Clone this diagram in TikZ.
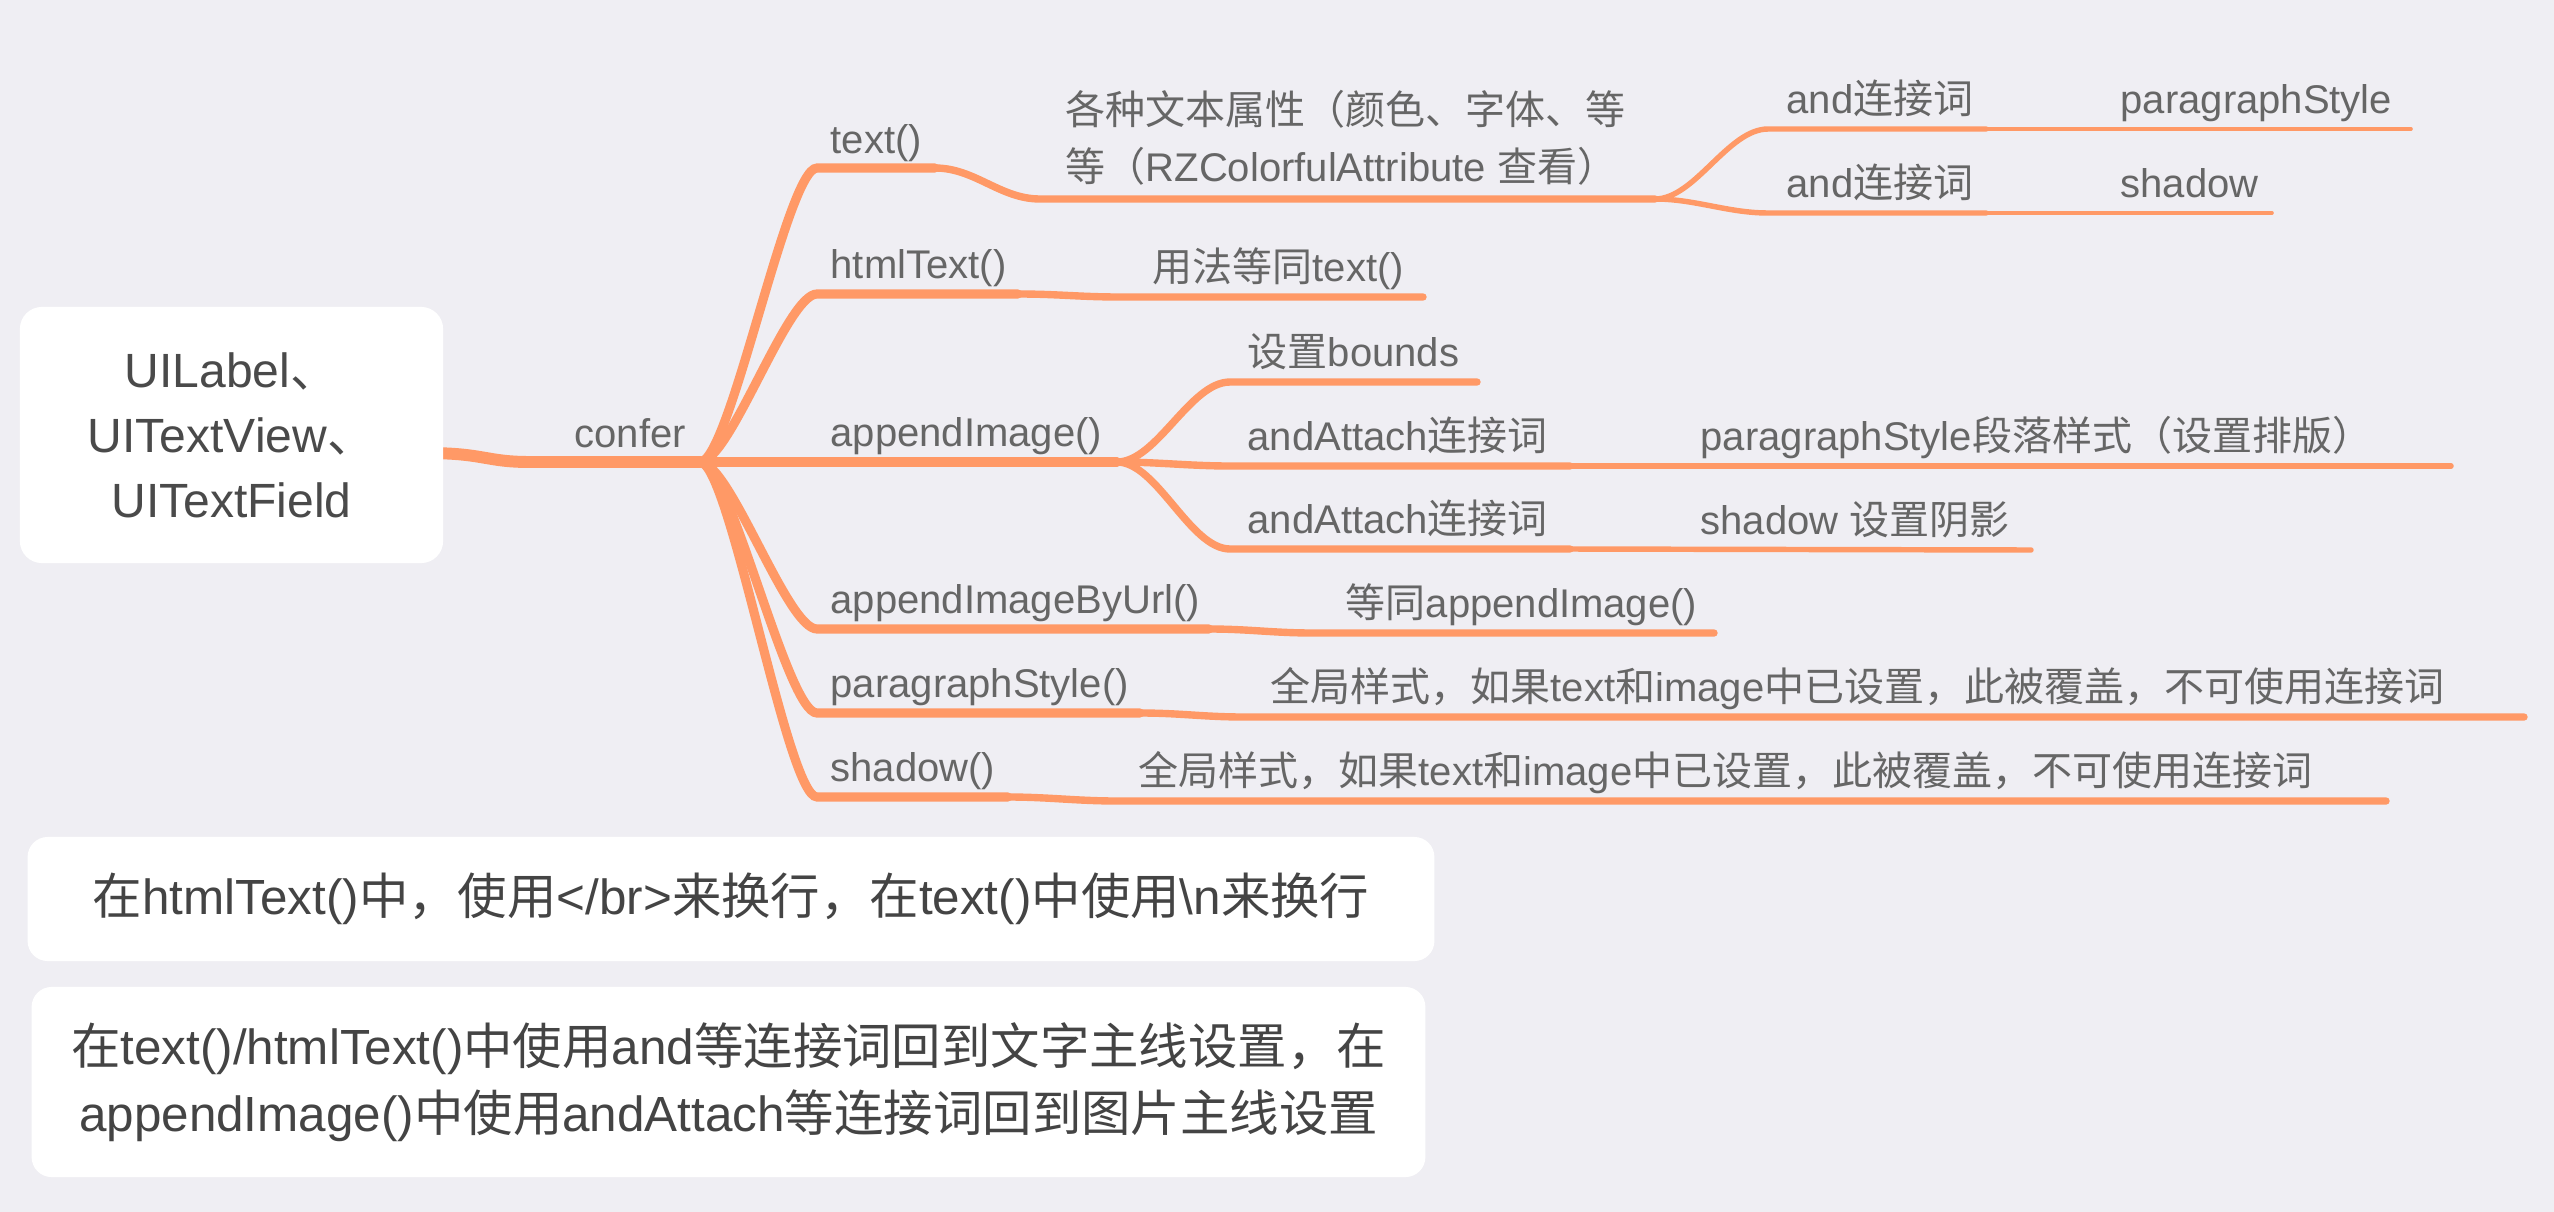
\documentclass[tikz,border=0pt]{standalone}
\usepackage{fontspec}
\setmainfont{Liberation Sans}
\newfontfamily\cjkfont{Noto Sans CJK SC}
\newcommand\zh[1]{{\cjkfont #1}}
\definecolor{bgcol}{HTML}{EFEEF3}
\definecolor{branch}{HTML}{FF9966}
\definecolor{lblgray}{HTML}{666666}
\definecolor{darktext}{HTML}{4A4A4A}
\definecolor{notetext}{HTML}{444444}
\tikzset{
  lbl/.style={anchor=base west, inner sep=0pt, text=lblgray, font=\fontsize{11.38pt}{16.2pt}\selectfont},
  rootbox/.style={fill=white, draw=none, rounded corners=0.22cm, align=center, text=darktext,
    font=\fontsize{13.66pt}{18.5pt}\selectfont, inner sep=0pt},
  notebox/.style={fill=white, draw=none, rounded corners=0.2cm, align=center, text=notetext,
    font=\fontsize{14.05pt}{19.06pt}\selectfont, inner sep=0pt},
  lvzero/.style={draw=branch, line width=3.4pt, line cap=round},
  lvone/.style={draw=branch, line width=2.6pt, line cap=round},
  lvtwo/.style={draw=branch, line width=2.1pt, line cap=round},
  lvthree/.style={draw=branch, line width=1.55pt, line cap=round},
  lvfour/.style={draw=branch, line width=1.0pt, line cap=round},
}
\begin{document}
\begin{tikzpicture}[x=0.01cm, y=-0.01cm]
\fill[bgcol] (0,0) rectangle (2554,1212);
\useasboundingbox (0,0) rectangle (2554,1212);

% coordinates of the branch lines
\coordinate (r0) at (425,453);
\coordinate (c0) at (530,462);
\coordinate (J) at (700,462);
\coordinate (a1s) at (817,168);  \coordinate (a1e) at (935,168);
\coordinate (a2s) at (817,294);  \coordinate (a2e) at (1018,294);
\coordinate (a3e) at (1117,462);
\coordinate (a4s) at (817,629);  \coordinate (a4e) at (1209,629);
\coordinate (a5s) at (817,713);  \coordinate (a5e) at (1140,713);
\coordinate (a6s) at (817,797);  \coordinate (a6e) at (1008,797);
\coordinate (b11s) at (1040,199); \coordinate (b11e) at (1655,199);
\coordinate (b21s) at (1120,297); \coordinate (b21e) at (1423,297);
\coordinate (b31s) at (1230,382); \coordinate (b31e) at (1477,382);
\coordinate (b32s) at (1230,466); \coordinate (b32e) at (1570,466);
\coordinate (b33s) at (1230,549); \coordinate (b33e) at (1570,549);
\coordinate (b41s) at (1313,633); \coordinate (b41e) at (1714,633);
\coordinate (b51s) at (1244,717); \coordinate (b51e) at (2524,717);
\coordinate (b61s) at (1117,801); \coordinate (b61e) at (2386,801);
\coordinate (c111s) at (1768,129); \coordinate (c111e) at (1986,129);
\coordinate (c112s) at (1768,213); \coordinate (c112e) at (1986,213);
\coordinate (c321e) at (2451,466);
\coordinate (c331e) at (2031,550);
\coordinate (d1e) at (2411,129);
\coordinate (d2e) at (2272,213);

% lines
\draw[lvzero] (r0) .. controls +(60,0) and +(-45,0) .. (c0) -- (J);
\draw[lvone] (J) .. controls +(30,0) and +(-30,0) .. (a1s) -- (a1e);
\draw[lvone] (J) .. controls +(30,0) and +(-30,0) .. (a2s) -- (a2e);
\draw[lvone] (J) -- (a3e);
\draw[lvone] (J) .. controls +(30,0) and +(-30,0) .. (a4s) -- (a4e);
\draw[lvone] (J) .. controls +(30,0) and +(-30,0) .. (a5s) -- (a5e);
\draw[lvone] (J) .. controls +(30,0) and +(-30,0) .. (a6s) -- (a6e);

\draw[lvtwo] (a1e) .. controls +(40,0) and +(-40,0) .. (b11s) -- (b11e);
\draw[lvtwo] (a2e) .. controls +(40,0) and +(-40,0) .. (b21s) -- (b21e);
\draw[lvtwo] (a3e) .. controls +(40,0) and +(-40,0) .. (b31s) -- (b31e);
\draw[lvtwo] (a3e) .. controls +(40,0) and +(-40,0) .. (b32s) -- (b32e);
\draw[lvtwo] (a3e) .. controls +(40,0) and +(-40,0) .. (b33s) -- (b33e);
\draw[lvtwo] (a4e) .. controls +(40,0) and +(-40,0) .. (b41s) -- (b41e);
\draw[lvtwo] (a5e) .. controls +(40,0) and +(-40,0) .. (b51s) -- (b51e);
\draw[lvtwo] (a6e) .. controls +(40,0) and +(-40,0) .. (b61s) -- (b61e);

\draw[lvthree] (b11e) .. controls +(40,0) and +(-40,0) .. (c111s) -- (c111e);
\draw[lvthree] (b11e) .. controls +(40,0) and +(-40,0) .. (c112s) -- (c112e);
\draw[lvthree] (b32e) -- (c321e);
\draw[lvthree] (b33e) -- (c331e);

\draw[lvfour] (c111e) -- (d1e);
\draw[lvfour] (c112e) -- (d2e);

% boxes
\node[rootbox, minimum width=4.23cm, minimum height=2.56cm] (root) at (231.5,435)
  {UILabel\zh{、}\\UITextView\zh{、}\\UITextField};
\node[notebox, minimum width=14.06cm, minimum height=1.24cm] (note1) at (731,899)
  {\zh{在}htmlText()\zh{中，使用}</br>\zh{来换行，在}text()\zh{中使用}\textbackslash n\zh{来换行}};
\node[notebox, minimum width=13.93cm, minimum height=1.90cm] (note2) at (728.5,1082)
  {\zh{在}text()/htmlText()\zh{中使用}and\zh{等连接词回到文字主线设置，在}\\
   appendImage()\zh{中使用}andAttach\zh{等连接词回到图片主线设置}};

% labels
\node[lbl] (confer) at (574,447) {confer};
\node[lbl] (n1) at (830,153) {text()};
\node[lbl] (n2) at (830,278) {htmlText()};
\node[lbl] (n3) at (830,446) {appendImage()};
\node[lbl] (n4) at (830,613) {appendImageByUrl()};
\node[lbl] (n5) at (830,697) {paragraphStyle()};
\node[lbl] (n6) at (830,781) {shadow()};

\node[lbl, align=left] (n11) at (1065,181)
  {\zh{各种文本属性（颜色、字体、等}\\\zh{等（}RZColorfulAttribute \zh{查看）}};
\node[lbl] (n21) at (1152,281) {\zh{用法等同}text()};
\node[lbl] (n31) at (1247,366) {\zh{设置}bounds};
\node[lbl] (n32) at (1247,450) {andAttach\zh{连接词}};
\node[lbl] (n33) at (1247,533) {andAttach\zh{连接词}};
\node[lbl] (n41) at (1345,617) {\zh{等同}appendImage()};
\node[lbl] (n51) at (1270,701) {\zh{全局样式，如果}text\zh{和}image\zh{中已设置，此被覆盖，不可使用连接词}};
\node[lbl] (n61) at (1138,785) {\zh{全局样式，如果}text\zh{和}image\zh{中已设置，此被覆盖，不可使用连接词}};

\node[lbl] (n111) at (1786,113) {and\zh{连接词}};
\node[lbl] (n112) at (1786,197) {and\zh{连接词}};
\node[lbl] (n321) at (1700,450) {paragraphStyle\zh{段落样式（设置排版）}};
\node[lbl] (n331) at (1700,534) {shadow \zh{设置阴影}};
\node[lbl] (n1111) at (2120,113) {paragraphStyle};
\node[lbl] (n1121) at (2120,197) {shadow};
\end{tikzpicture}
\end{document}
